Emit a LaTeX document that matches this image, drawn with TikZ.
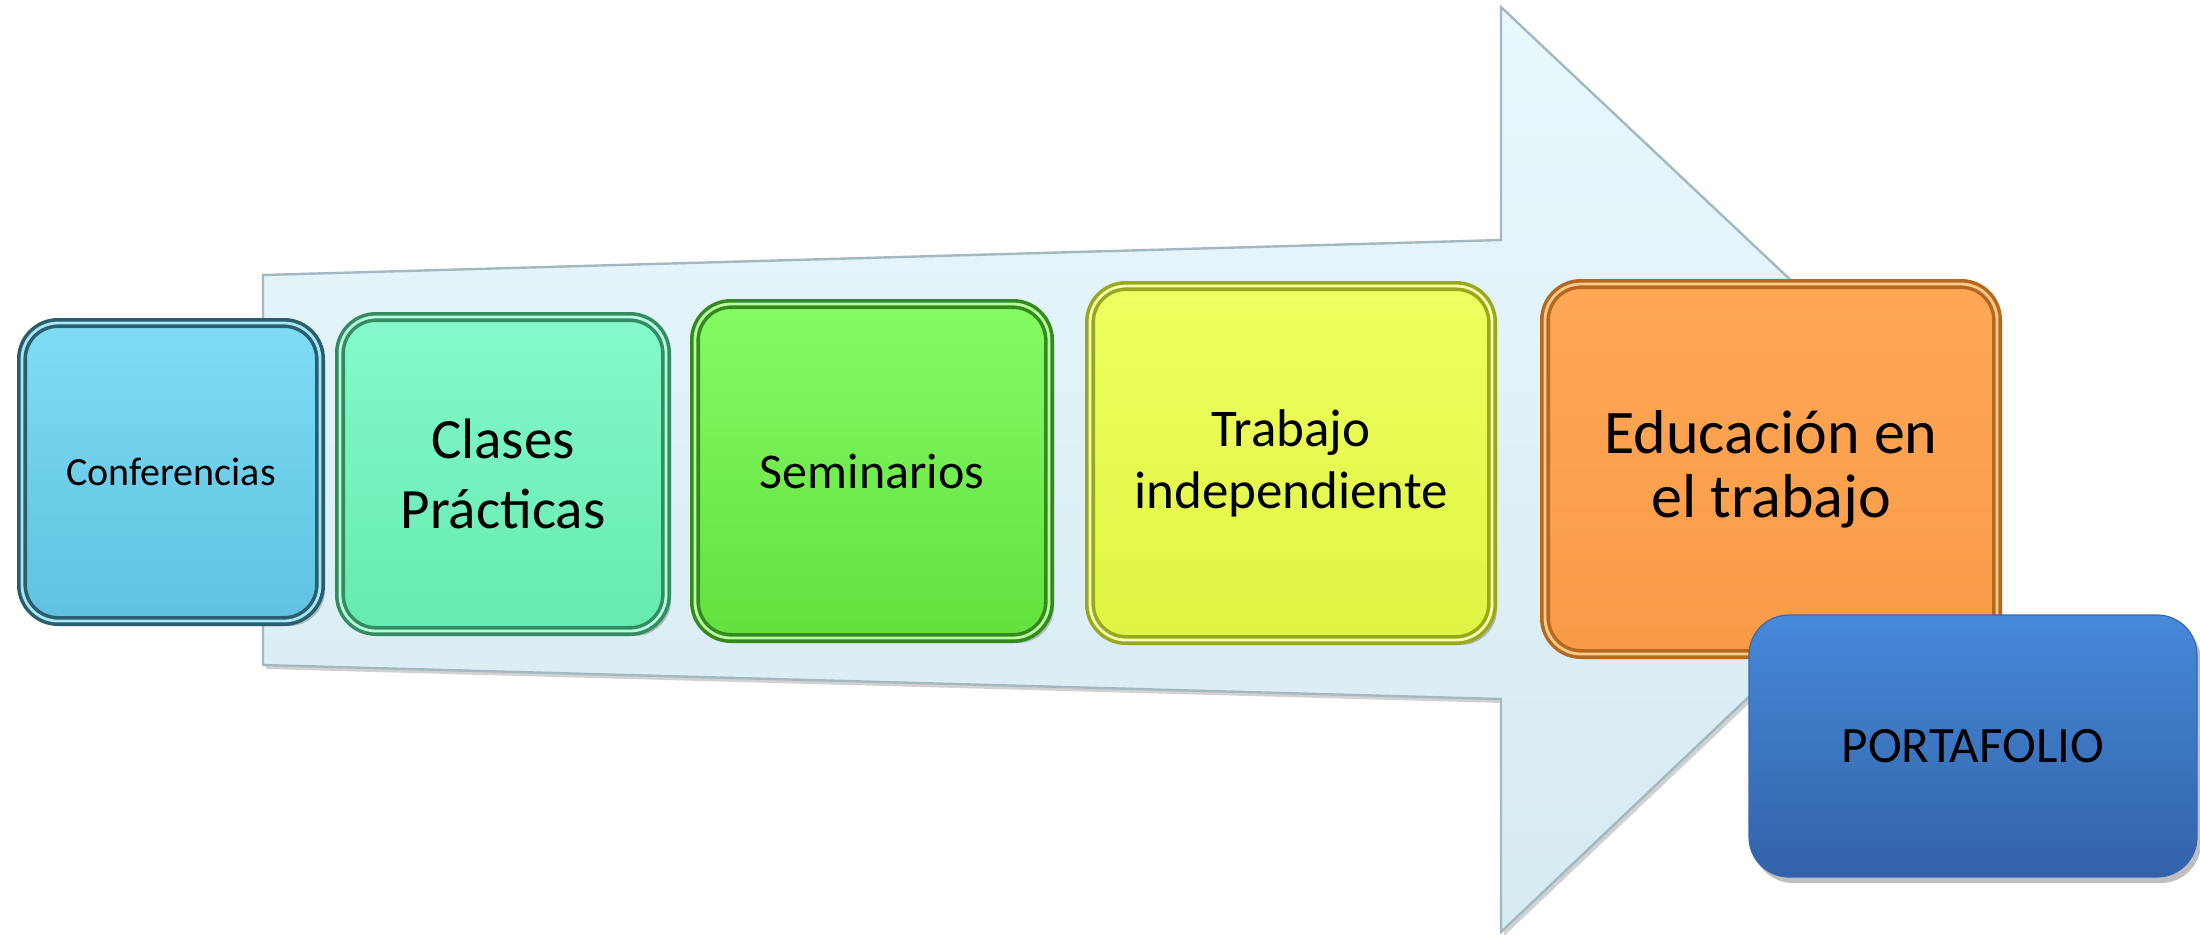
\documentclass[tikz,border=0pt]{standalone}
\usepackage{fontspec}
\setmainfont{Carlito}
\usetikzlibrary{shadows}
\definecolor{arrowT}{HTML}{E8F8FD}
\definecolor{arrowB}{HTML}{D6EAF1}
\definecolor{arrowE}{HTML}{A3B8C0}
\definecolor{confT}{HTML}{7EDCF6}
\definecolor{confB}{HTML}{60C2E0}
\definecolor{confD}{HTML}{2A5E6E}
\definecolor{confL}{HTML}{A8E6F6}
\definecolor{claT}{HTML}{84FACB}
\definecolor{claB}{HTML}{66EAB0}
\definecolor{claD}{HTML}{358C60}
\definecolor{claL}{HTML}{B4FCE0}
\definecolor{semT}{HTML}{84FC62}
\definecolor{semB}{HTML}{62E03E}
\definecolor{semD}{HTML}{348A1C}
\definecolor{semL}{HTML}{B8FDA0}
\definecolor{traT}{HTML}{EEFF60}
\definecolor{traB}{HTML}{E0F442}
\definecolor{traD}{HTML}{9AA81C}
\definecolor{traL}{HTML}{F6FFB0}
\definecolor{eduT}{HTML}{FFA856}
\definecolor{eduB}{HTML}{F89A46}
\definecolor{eduD}{HTML}{B8681E}
\definecolor{eduL}{HTML}{FFCB8C}
\definecolor{porT}{HTML}{4689DA}
\definecolor{porB}{HTML}{3262A8}
\definecolor{porD}{HTML}{3568B0}
\begin{document}
\begin{tikzpicture}[x=0.5pt,y=-0.5pt]
\useasboundingbox (0,0) rectangle (2200,934);
\tikzset{
  stage/.style={rounded corners=18pt, align=center, inner sep=0pt,
    line width=1.8pt, double distance=1.4pt, text=black,
    general shadow={fill=black, opacity=0.22, shadow xshift=2.5pt, shadow yshift=-2.5pt}},
  portbox/.style={rounded corners=20pt, align=center, inner sep=0pt,
    line width=0.6pt, text=black,
    general shadow={fill=black, opacity=0.25, shadow xshift=2pt, shadow yshift=-3pt}},
  bigarrow/.style={top color=arrowT, bottom color=arrowB, draw=arrowE, line width=1.2pt,
    general shadow={fill=black, opacity=0.18, shadow xshift=1.5pt, shadow yshift=-2pt}}
}
% big arrow
\path[bigarrow] (263,275) -- (1501,240) -- (1501,7) -- (1990,468) -- (1501,932)
  -- (1501,699) -- (263,665) -- cycle;
% stages
\node[stage, top color=confT, bottom color=confB, draw=confD, double=confL,
  minimum width=149pt, minimum height=149pt,
  font=\fontsize{20}{24}\selectfont] (conf) at (171,472) {Conferencias};
\node[stage, top color=claT, bottom color=claB, draw=claD, double=claL,
  minimum width=163pt, minimum height=157pt,
  font=\fontsize{28.5}{35}\selectfont] (clases) at (503,474) {Clases\\Prácticas};
\node[stage, top color=semT, bottom color=semB, draw=semD, double=semL,
  minimum width=177pt, minimum height=167pt,
  font=\fontsize{25}{30}\selectfont] (semin) at (872,471) {Seminarios};
\node[stage, top color=traT, bottom color=traB, draw=traD, double=traL,
  minimum width=201pt, minimum height=177pt,
  font=\fontsize{26.5}{31}\selectfont] (trabajo) at (1291,463) {Trabajo\\independiente};
\node[stage, top color=eduT, bottom color=eduB, draw=eduD, double=eduL,
  minimum width=226pt, minimum height=185pt,
  font=\fontsize{31}{32}\selectfont] (educ) at (1771,469) {Educación en\\el trabajo};
\node[portbox, top color=porT, bottom color=porB, draw=porD,
  minimum width=224pt, minimum height=131pt,
  font=\fontsize{25.5}{30}\selectfont] (port) at (1973,746) {PORTAFOLIO};
\end{tikzpicture}
\end{document}
